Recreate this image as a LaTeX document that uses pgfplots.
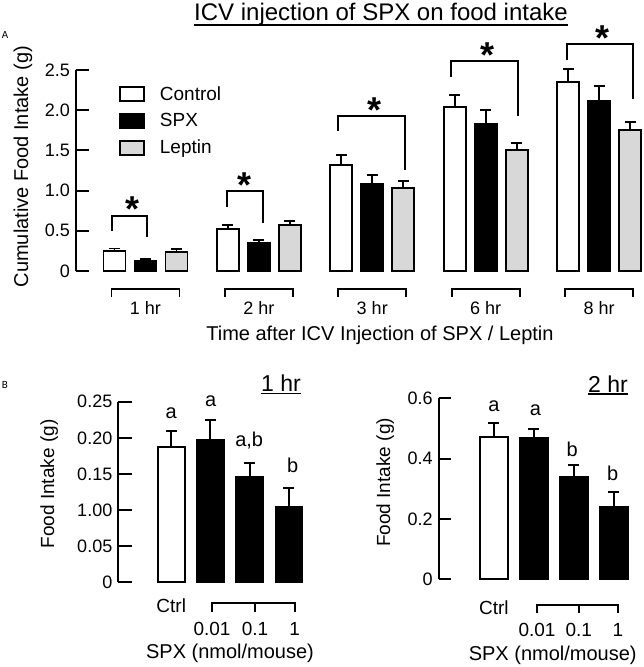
\documentclass[border=0pt]{standalone}
\usepackage{pgfplots}
\pgfplotsset{compat=1.18}
\usepackage{pgfplotstable}
\usepackage{fontspec}
\setmainfont{Liberation Sans}
\newfontfamily\carlito{Carlito}
\newcommand{\fs}[1]{\fontsize{#1bp}{#1bp}\selectfont}
\definecolor{leptingray}{RGB}{216,216,216}

% Panel A: x = group position (1..5), offsets +-0.2734 for Control / Leptin
% y = mean, e = upper error (SEM)
\pgfplotstableread{
x y e
0.7266 0.250 0.030
1.7266 0.522 0.046
2.7266 1.322 0.117
3.7266 2.040 0.153
4.7266 2.350 0.166
}\ctrlA
\pgfplotstableread{
x y e
1 0.128 0.017
2 0.344 0.046
3 1.078 0.112
4 1.828 0.172
5 2.114 0.183
}\spxA
\pgfplotstableread{
x y e
1.2734 0.232 0.038
2.2734 0.568 0.050
3.2734 1.032 0.083
4.2734 1.500 0.096
5.2734 1.754 0.103
}\leptinA
% Panel B, 1 hr
\pgfplotstableread{
x y e
1 0.1877 0.0217
}\ctrlBa
\pgfplotstableread{
x y e
2 0.1970 0.0272
3 0.1462 0.0189
4 0.1047 0.0263
}\spxBa
% Panel B, 2 hr
\pgfplotstableread{
x y e
1 0.4707 0.0483
}\ctrlBb
\pgfplotstableread{
x y e
2 0.4685 0.0309
3 0.3390 0.0390
4 0.2410 0.0485
}\spxBb

\pgfplotsset{
  mybar/.style={ybar, bar shift=0pt, draw=black, line width=1.9bp,
    /pgfplots/error bars/y dir=plus,
    /pgfplots/error bars/y explicit,
    /pgfplots/error bars/error mark=none,
    /pgfplots/error bars/error bar style={line width=1.9bp, black}},
  mycap/.style={only marks, mark=-, mark size=5.5bp, mark options={line width=1.9bp, black, solid}, forget plot},
  mypanel/.style={scale only axis, anchor=south west, clip=false,
    axis y line*=left, axis x line*=bottom,
    x axis line style={draw=none}, xtick style={draw=none},
    tick align=inside,
    y axis line style={line width=1.9bp}, ytick style={line width=1.9bp, black},
    yticklabel style={font=\fs{18}, xshift=-2.5bp},
    /pgf/number format/assume math mode=true},
}
\tikzset{
  sigstar/.style={font=\fs{36}\bfseries, anchor=base, inner sep=0pt, yshift=-20.6bp},
  br/.style={line width=1.9bp},
}

\begin{document}
\begin{tikzpicture}[x=1bp,y=1bp]
\useasboundingbox (0,0) rectangle (644,667);

% Title and panel letters
\node[font=\fs{24}, anchor=base, inner sep=0pt] (title) at (381,646.3) {ICV injection of SPX on food intake};
\draw[line width=1.6bp] ([yshift=-4.3bp]title.base west) -- ([yshift=-4.3bp]title.base east);
\node[font=\carlito\fs{11}, anchor=base west, inner sep=0pt] at (1.7,628.7) {A};
\node[font=\carlito\fs{11}, anchor=base west, inner sep=0pt] at (1.7,278.7) {B};

% ---------------- Panel A ----------------
\begin{axis}[mypanel,
  at={(76bp,396bp)}, width=568bp, height=201bp,
  xmin=0.3871, xmax=5.3968, ymin=0, ymax=2.5,
  major tick length=13bp,
  xtick={1,2,3,4,5}, xticklabels={1 hr,2 hr,3 hr,6 hr,8 hr},
  xticklabel style={font=\fs{18}, anchor=base, yshift=-43.3bp},
  ytick={0,0.5,1,1.5,2,2.5}, yticklabels={0,0.5,1.0,1.5,2.0,2.5},
  xlabel={Time after ICV Injection of SPX / Leptin},
  xlabel style={at={(axis cs:3.068,-0.8706)}, anchor=base, font=\fs{20}},
  ylabel={Cumulative Food Intake (g)},
  ylabel style={at={(rel axis cs:-0.0933,0.519)}, anchor=center, font=\fs{20}},
  legend style={at={(axis cs:0.766,2.30)}, anchor=north west, draw=none, fill=none,
    inner sep=0pt, outer sep=0pt, row sep=11bp, font=\fs{19}, nodes={inner sep=0pt}},
  legend cell align=left,
]
\addplot[mybar, bar width=0.194, fill=white,
  legend image code/.code={\draw[black,fill=white,line width=1.9bp] (0bp,-7bp) rectangle (24bp,7bp); \path[draw=none,fill=none] (0bp,0bp) -- (40bp,0bp);}]
  table[x=x, y=y, y error=e] {\ctrlA};
\addlegendentry{Control}
\addplot[mybar, bar width=0.194, fill=black,
  legend image code/.code={\draw[black,fill=black,line width=1.9bp] (0bp,-7bp) rectangle (24bp,7bp); \path[draw=none,fill=none] (0bp,0bp) -- (40bp,0bp);}]
  table[x=x, y=y, y error=e] {\spxA};
\addlegendentry{SPX}
\addplot[mybar, bar width=0.194, fill=leptingray,
  legend image code/.code={\draw[black,fill=leptingray,line width=1.9bp] (0bp,-7bp) rectangle (24bp,7bp); \path[draw=none,fill=none] (0bp,0bp) -- (40bp,0bp);}]
  table[x=x, y=y, y error=e] {\leptinA};
\addlegendentry{Leptin}
% error-bar caps
\addplot[mycap] table[x=x, y expr=\thisrow{y}+\thisrow{e}] {\ctrlA};
\addplot[mycap] table[x=x, y expr=\thisrow{y}+\thisrow{e}] {\spxA};
\addplot[mycap] table[x=x, y expr=\thisrow{y}+\thisrow{e}] {\leptinA};

% significance brackets
\draw[br] (axis cs:0.707,0.50) -- (axis cs:0.707,0.688) -- (axis cs:1.013,0.688) -- (axis cs:1.013,0.42);
\draw[br] (axis cs:1.715,0.80) -- (axis cs:1.715,1.0) -- (axis cs:2.033,1.0) -- (axis cs:2.033,0.60);
\draw[br] (axis cs:2.698,1.741) -- (axis cs:2.698,1.932) -- (axis cs:3.287,1.932) -- (axis cs:3.287,1.256);
\draw[br] (axis cs:3.698,2.41) -- (axis cs:3.698,2.608) -- (axis cs:4.285,2.608) -- (axis cs:4.285,1.928);
\draw[br] (axis cs:4.715,2.624) -- (axis cs:4.715,2.82) -- (axis cs:5.298,2.82) -- (axis cs:5.298,2.136);
\node[sigstar] at (axis cs:0.884,0.87) {*};
\node[sigstar] at (axis cs:1.877,1.17) {*};
\node[sigstar] at (axis cs:3.016,2.10) {*};
\node[sigstar] at (axis cs:4.02,2.79) {*};
\node[sigstar] at (axis cs:5.029,3.0) {*};
% group brackets under the bars
\draw[br] (axis cs:0.70,-0.3196) -- (axis cs:0.70,-0.2276) -- (axis cs:1.30,-0.2276) -- (axis cs:1.30,-0.3196);
\draw[br] (axis cs:1.70,-0.3196) -- (axis cs:1.70,-0.2276) -- (axis cs:2.30,-0.2276) -- (axis cs:2.30,-0.3196);
\draw[br] (axis cs:2.70,-0.3196) -- (axis cs:2.70,-0.2276) -- (axis cs:3.30,-0.2276) -- (axis cs:3.30,-0.3196);
\draw[br] (axis cs:3.70,-0.3196) -- (axis cs:3.70,-0.2276) -- (axis cs:4.30,-0.2276) -- (axis cs:4.30,-0.3196);
\draw[br] (axis cs:4.70,-0.3196) -- (axis cs:4.70,-0.2276) -- (axis cs:5.30,-0.2276) -- (axis cs:5.30,-0.3196);
\end{axis}

% ---------------- Panel B, 1 hr ----------------
\begin{axis}[mypanel,
  at={(118.3bp,84.7bp)}, width=191.7bp, height=180.6bp,
  xmin=-0.3495, xmax=4.541, ymin=0, ymax=0.25,
  major tick length=14bp,
  xtick=\empty,
  ytick={0,0.05,0.1,0.15,0.2,0.25}, yticklabels={0,0.05,1.00,0.15,0.20,0.25},
  ylabel={Food Intake (g)},
  ylabel style={at={(rel axis cs:-0.36,0.544)}, anchor=center, font=\fs{19}},
]
\addplot[mybar, bar width=0.681, fill=white] table[x=x, y=y, y error=e] {\ctrlBa};
\addplot[mybar, bar width=0.681, fill=black] table[x=x, y=y, y error=e] {\spxBa};
\addplot[mycap] table[x=x, y expr=\thisrow{y}+\thisrow{e}] {\ctrlBa};
\addplot[mycap] table[x=x, y expr=\thisrow{y}+\thisrow{e}] {\spxBa};
\node[font=\fs{20}, anchor=base] at (axis cs:1.0,0.227) {a};
\node[font=\fs{20}, anchor=base] at (axis cs:2.008,0.243) {a};
\node[font=\fs{20}, anchor=base] at (axis cs:2.99,0.1877) {a,b};
\node[font=\fs{20}, anchor=base] at (axis cs:4.1,0.1517) {b};
\draw[br] (axis cs:2.041,-0.0407) -- (axis cs:2.041,-0.0291) -- (axis cs:4.15,-0.0291) -- (axis cs:4.15,-0.0407);
\draw[br] (axis cs:3.138,-0.0291) -- (axis cs:3.138,-0.0407);
\node[font=\fs{19}, anchor=base] at (axis cs:1.0,-0.0421) {Ctrl};
\node[font=\fs{19}, anchor=base] at (axis cs:2.041,-0.0730) {0.01};
\node[font=\fs{19}, anchor=base] at (axis cs:3.138,-0.0730) {0.1};
\node[font=\fs{19}, anchor=base] at (axis cs:4.15,-0.0730) {1};
\node[font=\fs{20}, anchor=base] at (axis cs:2.5,-0.1052) {SPX (nmol/mouse)};
\end{axis}
\node[font=\fs{23}, anchor=base, inner sep=0pt] (t1) at (281,275.3) {1 hr};
\draw[line width=1.6bp] ([yshift=-2bp]t1.base west) -- ([yshift=-2bp]t1.base east);

% ---------------- Panel B, 2 hr ----------------
\begin{axis}[mypanel,
  at={(438.7bp,87.7bp)}, width=201.3bp, height=181bp,
  xmin=-0.3775, xmax=4.655, ymin=0, ymax=0.6,
  major tick length=12bp,
  xtick=\empty,
  ytick={0,0.2,0.4,0.6}, yticklabels={0,0.2,0.4,0.6},
  ylabel={Food Intake (g)},
  ylabel style={at={(rel axis cs:-0.2653,0.535)}, anchor=center, font=\fs{19}},
]
\addplot[mybar, bar width=0.70, fill=white] table[x=x, y=y, y error=e] {\ctrlBb};
\addplot[mybar, bar width=0.70, fill=black] table[x=x, y=y, y error=e] {\spxBb};
\addplot[mycap] table[x=x, y expr=\thisrow{y}+\thisrow{e}] {\ctrlBb};
\addplot[mycap] table[x=x, y expr=\thisrow{y}+\thisrow{e}] {\spxBb};
\node[font=\fs{20}, anchor=base] at (axis cs:1.0,0.5555) {a};
\node[font=\fs{20}, anchor=base] at (axis cs:2.04,0.5446) {a};
\node[font=\fs{20}, anchor=base] at (axis cs:2.96,0.4064) {b};
\node[font=\fs{20}, anchor=base] at (axis cs:3.97,0.3268) {b};
\draw[br] (axis cs:2.08,-0.1127) -- (axis cs:2.08,-0.0852) -- (axis cs:4.105,-0.0852) -- (axis cs:4.105,-0.1127);
\draw[br] (axis cs:3.1225,-0.0852) -- (axis cs:3.1225,-0.1127);
\node[font=\fs{19}, anchor=base] at (axis cs:1.0,-0.116) {Ctrl};
\node[font=\fs{19}, anchor=base] at (axis cs:2.08,-0.1903) {0.01};
\node[font=\fs{19}, anchor=base] at (axis cs:3.1225,-0.1903) {0.1};
\node[font=\fs{19}, anchor=base] at (axis cs:4.105,-0.1903) {1};
\node[font=\fs{20}, anchor=base] at (axis cs:2.4725,-0.2698) {SPX (nmol/mouse)};
\end{axis}
\node[font=\fs{23}, anchor=base, inner sep=0pt] (t2) at (608,274.7) {2 hr};
\draw[line width=1.6bp] ([yshift=-2bp]t2.base west) -- ([yshift=-2bp]t2.base east);
\end{tikzpicture}
\end{document}
